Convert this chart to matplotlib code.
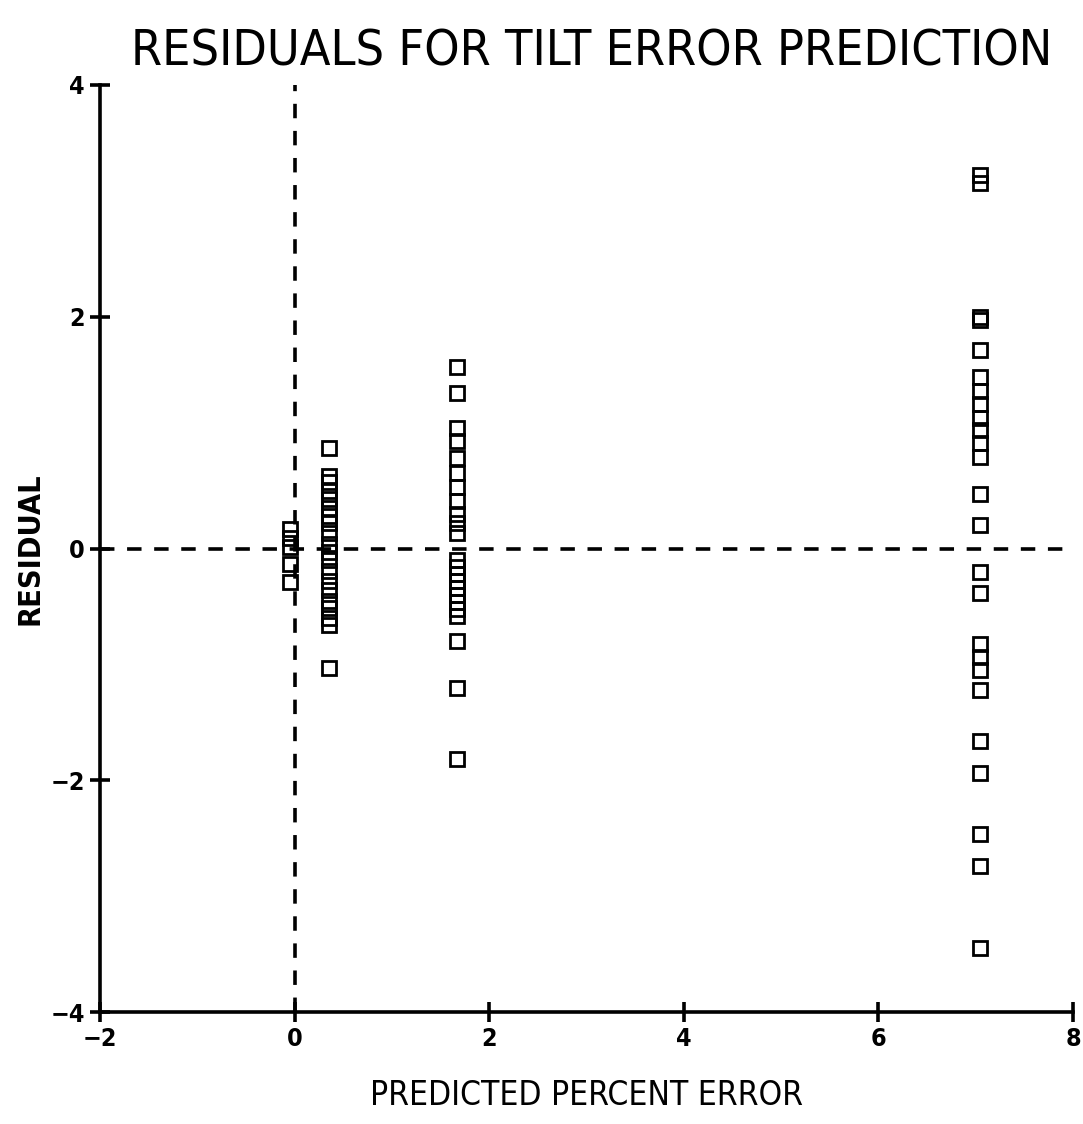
import matplotlib
matplotlib.use("Agg")
import matplotlib.pyplot as plt
from matplotlib import font_manager as fm

# Data
x_groups = [-0.05, 0.35, 1.67, 7.04]
res_g1 = [0.17, 0.09, 0.01, -0.13, -0.29]
res_g2 = [0.87, 0.63, 0.57, 0.50, 0.43, 0.35, 0.28, 0.22, 0.13, 0.04, -0.03,
          -0.10, -0.19, -0.28, -0.36, -0.45, -0.51, -0.60, -0.66, -1.03]
res_g3 = [1.57, 1.34, 1.04, 0.93, 0.78, 0.65, 0.53, 0.41, 0.30, 0.22, 0.13,
          -0.10, -0.16, -0.22, -0.28, -0.34, -0.40, -0.46, -0.52, -0.58,
          -0.80, -1.20, -1.82]
res_g4 = [3.22, 3.15, 2.00, 1.97, 1.71, 1.48, 1.36, 1.25, 1.13, 1.02, 0.91,
          0.79, 0.47, 0.20, -0.20, -0.38, -0.82, -0.94, -1.05, -1.22,
          -1.66, -1.94, -2.46, -2.74, -3.45]
xticks = [-2, 0, 2, 4, 6, 8]
yticks = [-4, -2, 0, 2, 4]

title_txt = "RESIDUALS FOR TILT ERROR PREDICTION"
xlabel_txt = "PREDICTED PERCENT ERROR"
ylabel_txt = "RESIDUAL"

# pick a condensed face if available
stretch = "normal"
try:
    f = fm.findfont(fm.FontProperties(family="DejaVu Sans", stretch="condensed"), fallback_to_default=False)
    if "Condensed" in f:
        stretch = "condensed"
except Exception:
    pass

fig = plt.figure(figsize=(10.83, 11.24), dpi=100)
ax = fig.add_axes([0.0923, 0.0996, 0.8985, 0.8248])

groups = [res_g1, res_g2, res_g3, res_g4]
for xv, ys in zip(x_groups, groups):
    ax.plot([xv] * len(ys), ys, linestyle="none", marker="s", markersize=9.5,
            markerfacecolor="none", markeredgecolor="black", markeredgewidth=2.0,
            clip_on=False)

ax.axhline(0, color="black", linestyle=(0, (4, 3.5)), linewidth=2.6)
ax.axvline(0, color="black", linestyle=(0, (4, 3.5)), linewidth=2.6)

ax.set_xlim(-2, 8)
ax.set_ylim(-4, 4)
ax.set_xticks(xticks)
ax.set_yticks(yticks)
ax.set_xticklabels([str(t).replace("-", "\u2212") for t in xticks])
ax.set_yticklabels([str(t).replace("-", "\u2212") for t in yticks])
for s in ["top", "right"]:
    ax.spines[s].set_visible(False)
for s in ["left", "bottom"]:
    ax.spines[s].set_linewidth(2.6)
ax.tick_params(direction="inout", length=14, width=2.6, labelsize=18, pad=4)
for lab in ax.get_xticklabels() + ax.get_yticklabels():
    lab.set_fontweight("bold")
    lab.set_fontstretch(stretch)

ax.set_title(title_txt, fontsize=36, pad=14, fontstretch=stretch, x=0.505)
ax.set_xlabel(xlabel_txt, fontsize=24, labelpad=20, fontstretch=stretch)
ax.set_ylabel(ylabel_txt, fontsize=22, fontweight="bold", fontstretch=stretch)
ax.yaxis.set_label_coords(-0.057, 0.5)

fig.savefig("out.png", dpi=100, facecolor="white")
